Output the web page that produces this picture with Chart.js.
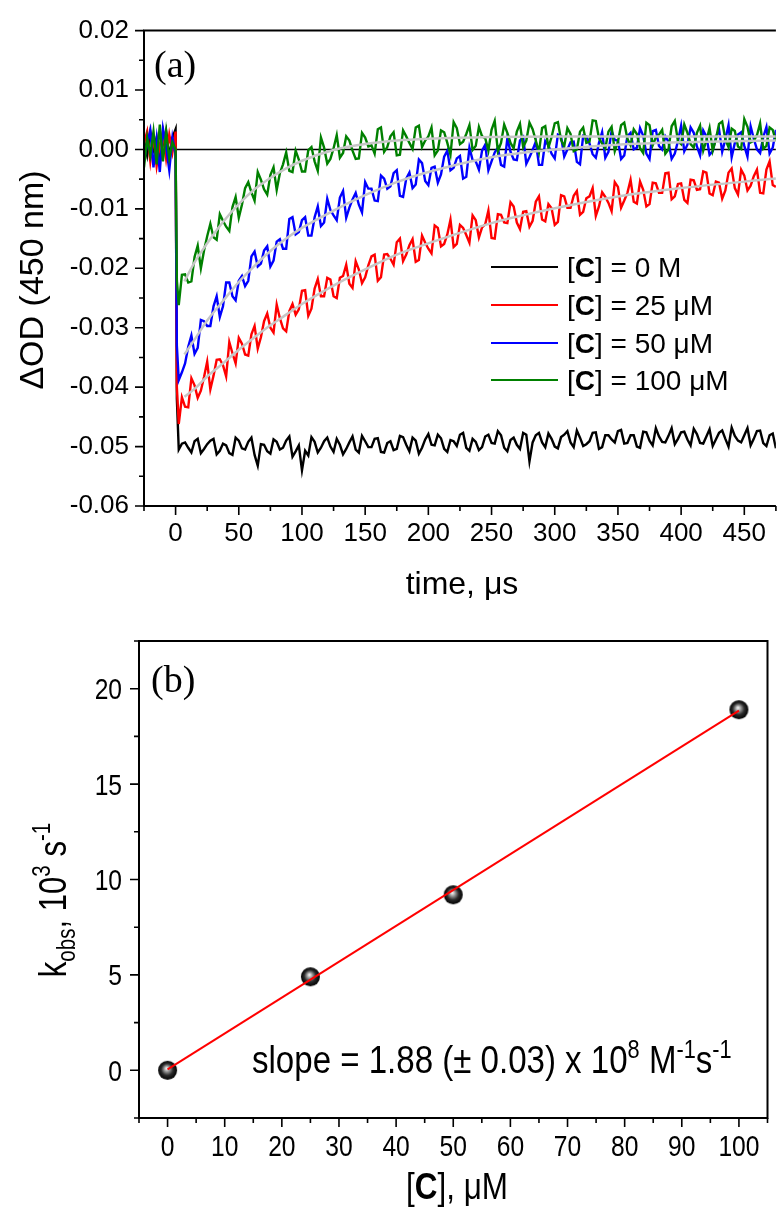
<!DOCTYPE html>
<html>
<head>
<meta charset="utf-8">
<script src="https://cdn.jsdelivr.net/npm/chart.js@4.4.1/dist/chart.umd.min.js"></script>
<style>
html,body{margin:0;padding:0;background:#fff;}
#wrap{position:relative;width:778px;height:1210px;overflow:hidden;}
#ca{position:absolute;left:0;top:0;}
#cb{position:absolute;left:0;top:600px;}
</style>
</head>
<body>
<div id="wrap">
<canvas id="ca" width="778" height="600"></canvas>
<canvas id="cb" width="778" height="610"></canvas>
</div>
<script>
// ---------------- Panel (a) data ----------------
const timeUs = [-25,-22.5,-20,-17.5,-15,-12.5,-10,-7.5,-5,-2.5,0,1,2.5,
5,7.5,10,12.5,15,17.5,20,22.5,25,27.5,30,32.5,35,37.5,40,42.5,45,47.5,50,52.5,
55,57.5,60,62.5,65,67.5,70,72.5,75,77.5,80,82.5,85,87.5,90,92.5,95,97.5,100,102.5,
105,107.5,110,112.5,115,117.5,120,122.5,125,127.5,130,132.5,135,137.5,140,142.5,145,147.5,150,152.5,
155,157.5,160,162.5,165,167.5,170,172.5,175,177.5,180,182.5,185,187.5,190,192.5,195,197.5,200,202.5,
205,207.5,210,212.5,215,217.5,220,222.5,225,227.5,230,232.5,235,237.5,240,242.5,245,247.5,250,252.5,
255,257.5,260,262.5,265,267.5,270,272.5,275,277.5,280,282.5,285,287.5,290,292.5,295,297.5,300,302.5,
305,307.5,310,312.5,315,317.5,320,322.5,325,327.5,330,332.5,335,337.5,340,342.5,345,347.5,350,352.5,
355,357.5,360,362.5,365,367.5,370,372.5,375,377.5,380,382.5,385,387.5,390,392.5,395,397.5,400,402.5,
405,407.5,410,412.5,415,417.5,420,422.5,425,427.5,430,432.5,435,437.5,440,442.5,445,447.5,450,452.5,
455,457.5,460,462.5,465,467.5,470,472.5,475];

const od0M = [0.0015,-0.0010,0.0030,0.0000,0.0020,-0.0020,0.0010,0.0032,-0.0012,0.0020,0.0034,
-0.0420,-0.0505,
-0.0495,-0.0493,-0.0502,-0.0510,-0.0491,-0.0487,-0.0511,-0.0504,-0.0496,-0.0490,
-0.0487,-0.0513,-0.0507,-0.0495,-0.0498,-0.0511,-0.0514,-0.0485,-0.0490,-0.0503,
-0.0505,-0.0492,-0.0485,-0.0514,-0.0532,-0.0496,-0.0497,-0.0508,-0.0512,-0.0488,
-0.0492,-0.0505,-0.0502,-0.0490,-0.0483,-0.0517,-0.0508,-0.0498,-0.0540,-0.0507,
-0.0515,-0.0484,-0.0492,-0.0510,-0.0502,-0.0491,-0.0485,-0.0500,-0.0509,-0.0487,
-0.0497,-0.0513,-0.0504,-0.0493,-0.0483,-0.0505,-0.0510,-0.0482,-0.0491,-0.0501,
-0.0501,-0.0487,-0.0486,-0.0509,-0.0510,-0.0494,-0.0491,-0.0506,-0.0504,-0.0482,
-0.0484,-0.0497,-0.0508,-0.0485,-0.0490,-0.0512,-0.0502,-0.0488,-0.0479,-0.0497,
-0.0498,-0.0480,-0.0486,-0.0504,-0.0509,-0.0489,-0.0491,-0.0499,-0.0480,-0.0477,
-0.0502,-0.0507,-0.0487,-0.0492,-0.0506,-0.0501,-0.0483,-0.0480,-0.0494,-0.0495,
-0.0474,-0.0481,-0.0502,-0.0508,-0.0489,-0.0485,-0.0497,-0.0504,-0.0477,-0.0480,
-0.0525,-0.0493,-0.0481,-0.0477,-0.0493,-0.0501,-0.0478,-0.0487,-0.0500,-0.0503,
-0.0484,-0.0480,-0.0474,-0.0493,-0.0501,-0.0473,-0.0485,-0.0499,-0.0496,-0.0491,
-0.0477,-0.0476,-0.0504,-0.0501,-0.0481,-0.0481,-0.0488,-0.0493,-0.0474,-0.0472,
-0.0495,-0.0494,-0.0481,-0.0481,-0.0500,-0.0502,-0.0475,-0.0476,-0.0490,-0.0498,
-0.0469,-0.0483,-0.0492,-0.0493,-0.0482,-0.0469,-0.0496,-0.0487,-0.0476,-0.0475,
-0.0488,-0.0498,-0.0470,-0.0479,-0.0494,-0.0495,-0.0483,-0.0471,-0.0499,-0.0488,
-0.0477,-0.0473,-0.0487,-0.0500,-0.0468,-0.0482,-0.0490,-0.0493,-0.0481,-0.0469,
-0.0498,-0.0487,-0.0474,-0.0473,-0.0494,-0.0499,-0.0481,-0.0478,-0.0503];

const od25uM = [0.0010,0.0030,-0.0020,0.0022,-0.0028,0.0008,0.0030,-0.0015,0.0025,-0.0005,0.0030,
-0.0400,-0.0462,
-0.0417,-0.0433,-0.0434,-0.0385,-0.0397,-0.0418,-0.0406,-0.0383,-0.0357,-0.0404,
-0.0381,-0.0354,-0.0353,-0.0363,-0.0382,-0.0324,-0.0343,-0.0360,-0.0317,-0.0327,
-0.0345,-0.0347,-0.0311,-0.0297,-0.0335,-0.0316,-0.0289,-0.0276,-0.0300,-0.0308,
-0.0261,-0.0284,-0.0301,-0.0306,-0.0272,-0.0260,-0.0278,-0.0269,-0.0238,-0.0237,
-0.0280,-0.0268,-0.0234,-0.0218,-0.0247,-0.0247,-0.0216,-0.0219,-0.0247,-0.0250,
-0.0216,-0.0213,-0.0194,-0.0226,-0.0233,-0.0188,-0.0202,-0.0225,-0.0215,-0.0195,
-0.0180,-0.0177,-0.0221,-0.0215,-0.0177,-0.0176,-0.0184,-0.0194,-0.0156,-0.0150,
-0.0188,-0.0177,-0.0161,-0.0151,-0.0189,-0.0186,-0.0145,-0.0157,-0.0167,-0.0175,
-0.0128,-0.0132,-0.0163,-0.0159,-0.0143,-0.0118,-0.0164,-0.0159,-0.0127,-0.0132,
-0.0144,-0.0157,-0.0111,-0.0119,-0.0148,-0.0131,-0.0126,-0.0103,-0.0149,-0.0150,
-0.0109,-0.0110,-0.0123,-0.0124,-0.0089,-0.0096,-0.0123,-0.0134,-0.0105,-0.0104,
-0.0130,-0.0120,-0.0088,-0.0079,-0.0118,-0.0121,-0.0092,-0.0099,-0.0127,-0.0122,
-0.0077,-0.0079,-0.0098,-0.0098,-0.0078,-0.0070,-0.0110,-0.0105,-0.0082,-0.0079,
-0.0065,-0.0112,-0.0096,-0.0072,-0.0080,-0.0090,-0.0104,-0.0055,-0.0063,-0.0098,
-0.0086,-0.0073,-0.0051,-0.0088,-0.0091,-0.0054,-0.0068,-0.0096,-0.0092,-0.0056,
-0.0057,-0.0073,-0.0073,-0.0040,-0.0039,-0.0084,-0.0079,-0.0058,-0.0057,-0.0085,
-0.0090,-0.0051,-0.0052,-0.0068,-0.0067,-0.0037,-0.0039,-0.0074,-0.0077,-0.0054,
-0.0056,-0.0083,-0.0069,-0.0039,-0.0032,-0.0065,-0.0076,-0.0034,-0.0044,-0.0069,
-0.0061,-0.0045,-0.0034,-0.0073,-0.0074,-0.0034,-0.0020,-0.0060,-0.0063];

const od50uM = [-0.0020,0.0010,0.0032,-0.0030,0.0018,-0.0038,0.0035,0.0005,-0.0035,0.0020,-0.0010,
-0.0330,-0.0388,
-0.0375,-0.0360,-0.0332,-0.0313,-0.0344,-0.0334,-0.0287,-0.0289,-0.0297,-0.0297,
-0.0264,-0.0247,-0.0282,-0.0264,-0.0224,-0.0224,-0.0247,-0.0254,-0.0221,-0.0213,
-0.0230,-0.0221,-0.0180,-0.0172,-0.0197,-0.0192,-0.0170,-0.0163,-0.0197,-0.0187,
-0.0155,-0.0151,-0.0167,-0.0167,-0.0117,-0.0114,-0.0143,-0.0139,-0.0119,-0.0114,
-0.0145,-0.0145,-0.0114,-0.0096,-0.0129,-0.0123,-0.0083,-0.0102,-0.0111,-0.0119,
-0.0081,-0.0070,-0.0115,-0.0098,-0.0084,-0.0073,-0.0093,-0.0106,-0.0055,-0.0066,
-0.0066,-0.0086,-0.0087,-0.0044,-0.0049,-0.0066,-0.0062,-0.0040,-0.0035,-0.0078,
-0.0080,-0.0049,-0.0039,-0.0065,-0.0059,-0.0017,-0.0023,-0.0053,-0.0060,-0.0031,
-0.0029,-0.0056,-0.0042,-0.0012,-0.0002,-0.0035,-0.0031,-0.0015,-0.0011,-0.0049,
-0.0046,0.0003,-0.0018,-0.0020,-0.0034,-0.0002,0.0008,-0.0035,-0.0020,-0.0005,
0.0003,-0.0026,-0.0029,0.0019,-0.0004,-0.0017,-0.0018,0.0015,0.0021,-0.0024,
-0.0013,-0.0001,0.0013,-0.0026,-0.0026,0.0014,0.0007,-0.0007,-0.0015,0.0025,
0.0022,-0.0012,0.0000,0.0012,0.0013,-0.0021,-0.0025,0.0023,0.0022,0.0010,
-0.0008,-0.0014,0.0011,0.0029,-0.0014,-0.0004,0.0031,0.0016,0.0015,-0.0016,
-0.0010,0.0022,0.0028,0.0000,0.0003,0.0036,0.0023,-0.0007,-0.0016,0.0031,
0.0033,0.0006,0.0000,0.0022,0.0013,-0.0016,-0.0007,0.0014,0.0040,-0.0003,
0.0008,0.0037,0.0028,0.0005,-0.0010,0.0032,0.0022,-0.0009,-0.0003,0.0020,
0.0034,-0.0004,0.0017,0.0041,-0.0013,0.0011,0.0025,0.0029,0.0006,-0.0012,
0.0039,0.0018,0.0000,-0.0006,0.0021,0.0038,-0.0007,0.0003,0.0033];

const od100uM = [-0.0030,0.0020,-0.0010,0.0030,-0.0025,0.0042,-0.0020,0.0030,-0.0015,0.0012,0.0000,
-0.0220,-0.0262,
-0.0211,-0.0210,-0.0224,-0.0222,-0.0181,-0.0162,-0.0200,-0.0170,-0.0146,-0.0125,
-0.0148,-0.0152,-0.0109,-0.0120,-0.0130,-0.0137,-0.0097,-0.0080,-0.0115,-0.0093,
-0.0065,-0.0055,-0.0072,-0.0086,-0.0038,-0.0051,-0.0067,-0.0076,-0.0043,-0.0030,
-0.0068,-0.0040,-0.0025,-0.0005,-0.0036,-0.0038,-0.0002,-0.0017,-0.0037,-0.0037,
-0.0001,0.0004,-0.0020,-0.0036,0.0020,0.0003,-0.0024,-0.0016,0.0002,0.0024,
-0.0014,-0.0006,0.0022,0.0015,-0.0002,-0.0016,-0.0015,0.0028,0.0020,0.0005,
0.0007,-0.0007,0.0034,0.0037,-0.0004,0.0004,0.0022,0.0029,-0.0010,-0.0009,
0.0032,0.0022,0.0011,0.0001,0.0037,0.0040,0.0004,0.0015,0.0022,0.0037,
-0.0010,-0.0002,0.0032,0.0029,0.0011,-0.0009,0.0046,0.0036,0.0009,0.0013,
0.0026,0.0041,-0.0001,0.0006,0.0038,0.0022,0.0019,-0.0002,0.0033,0.0048,
-0.0003,0.0011,0.0042,0.0028,0.0011,0.0002,0.0030,0.0043,0.0004,0.0015,
0.0045,0.0034,0.0015,-0.0005,0.0036,0.0039,0.0003,0.0021,0.0044,0.0046,
0.0016,0.0005,0.0036,0.0026,-0.0003,0.0000,0.0030,0.0037,0.0011,0.0013,
0.0049,0.0048,0.0019,0.0010,0.0002,0.0030,0.0038,-0.0003,0.0013,0.0041,
0.0045,0.0018,0.0007,0.0034,0.0026,0.0002,-0.0006,0.0045,0.0041,0.0007,
0.0020,0.0025,0.0033,-0.0007,0.0000,0.0039,0.0048,0.0014,0.0009,0.0042,
0.0028,0.0009,0.0003,0.0028,0.0040,-0.0002,0.0015,0.0036,-0.0002,0.0017,
0.0043,0.0047,0.0017,0.0004,0.0035,0.0031,0.0005,0.0001,0.0051,0.0038,
0.0012,0.0015,0.0024,0.0044,0.0001,0.0006,0.0037,0.0033,0.0014];

// exponential fits (grey curves)
const fitTimeUs = [7,15,25,37.5,50,62.5,75,87.5,100,125,150,175,200,250,300,350,400,475];
const fit25uM  = [-0.0416,-0.0403,-0.0382,-0.0360,-0.0337,-0.0316,-0.0296,-0.0278,-0.0260,-0.0229,-0.0202,-0.0177,-0.0158,-0.0124,-0.0099,-0.0079,-0.0065,-0.0049];
const fit50uM  = [-0.0345,-0.0320,-0.0288,-0.0255,-0.0223,-0.0196,-0.0171,-0.0150,-0.0132,-0.0103,-0.0077,-0.0055,-0.0038,-0.0013,0.0000,0.0008,0.0012,0.0015];
const fit100uM = [-0.0222,-0.0190,-0.0158,-0.0122,-0.0092,-0.0067,-0.0048,-0.0032,-0.0019,-0.0001,0.0009,0.0015,0.0018,0.0021,0.0022,0.0022,0.0022,0.0022];

const zeroLineT = [0,475];
const zeroLineOD = [0,0];

const seriesLabels = ['0 M','25 μM','50 μM','100 μM'];
const seriesColors = ['#000000','#ff0000','#0000ff','#008000'];

const xTicksA = [0,50,100,150,200,250,300,350,400,450];
const xMinorA = [-25,25,75,125,175,225,275,325,375,425,475];
const yTicksA = [-0.06,-0.05,-0.04,-0.03,-0.02,-0.01,0.00,0.01,0.02];
const yMinorA = [-0.055,-0.045,-0.035,-0.025,-0.015,-0.005,0.005,0.015];

// ---------------- Panel (b) data ----------------
const concUM = [0,25,50,100];
const kobs = [0.0,4.9,9.2,18.9];
const fitConc = [0,100];
const fitKobs = [0.05,18.85];

const xTicksB = [0,10,20,30,40,50,60,70,80,90,100];
const xMinorB = [-5,5,15,25,35,45,55,65,75,85,95,105];
const yTicksB = [0,5,10,15,20];
const yMinorB = [-2.5,2.5,7.5,12.5,17.5,22.5];

// ---------------- helpers ----------------
const SANS = "'Liberation Sans', Arial, Helvetica, sans-serif";
const SERIF = "'Liberation Serif', 'Times New Roman', serif";
const NARROW_X = 0.82;   // panel (b) text is set in a condensed face
const pts = (xs, ys) => xs.map((v, i) => ({x: v, y: ys[i]}));

function drawRuns(ctx, runs, cx, cy, rot, align, sx) {
  ctx.save();
  ctx.translate(cx, cy);
  ctx.rotate(rot);
  ctx.scale(sx || 1, 1);
  let total = 0;
  runs.forEach(r => { ctx.font = r.font; r.w = ctx.measureText(r.text).width; total += r.w; });
  let x = align === 'left' ? 0 : (align === 'right' ? -total : -total / 2);
  ctx.textBaseline = 'alphabetic';
  ctx.textAlign = 'left';
  ctx.fillStyle = '#000';
  runs.forEach(r => { ctx.font = r.font; ctx.fillText(r.text, x, r.dy || 0); x += r.w; });
  ctx.restore();
}

function drawTicks(ctx, a, xs, ys, xMaj, xMin, yMaj, yMin) {
  ctx.save();
  ctx.strokeStyle = '#000';
  ctx.lineWidth = 1.6;
  ctx.beginPath();
  xMaj.forEach(v => { const p = xs.getPixelForValue(v); ctx.moveTo(p, a.bottom); ctx.lineTo(p, a.bottom + 9); });
  xMin.forEach(v => { const p = xs.getPixelForValue(v); ctx.moveTo(p, a.bottom); ctx.lineTo(p, a.bottom + 5); });
  yMaj.forEach(v => { const p = ys.getPixelForValue(v); ctx.moveTo(a.left, p); ctx.lineTo(a.left - 9, p); });
  yMin.forEach(v => { const p = ys.getPixelForValue(v); ctx.moveTo(a.left, p); ctx.lineTo(a.left - 5, p); });
  ctx.stroke();
  ctx.restore();
}

// ---------------- Chart (a) ----------------
const decorA = {
  id: 'decorA',
  afterDraw(chart) {
    const {ctx, chartArea: a, scales: {x, y}} = chart;
    ctx.save();
    ctx.strokeStyle = '#000';
    ctx.lineWidth = 2;
    ctx.beginPath();
    ctx.moveTo(a.right, a.top); ctx.lineTo(a.left, a.top);
    ctx.lineTo(a.left, a.bottom); ctx.lineTo(a.right, a.bottom);
    ctx.stroke();
    ctx.restore();
    drawTicks(ctx, a, x, y, xTicksA, xMinorA, yTicksA, yMinorA);

    ctx.save();
    ctx.font = '38px ' + SERIF;
    ctx.fillStyle = '#000';
    ctx.textBaseline = 'alphabetic';
    ctx.fillText('(a)', 154, 77);
    ctx.restore();

    const rowY = [267, 305, 343, 380];
    seriesLabels.forEach((lab, i) => {
      ctx.save();
      ctx.strokeStyle = seriesColors[i];
      ctx.lineWidth = 2;
      ctx.beginPath(); ctx.moveTo(491, rowY[i]); ctx.lineTo(558, rowY[i]); ctx.stroke();
      ctx.restore();
      drawRuns(ctx, [
        {text: '[', font: '28px ' + SANS},
        {text: 'C', font: 'bold 28px ' + SANS},
        {text: '] = ' + lab, font: '28px ' + SANS}
      ], 567, rowY[i] + 10, 0, 'left');
    });

    drawRuns(ctx, [{text: 'ΔOD (450 nm)', font: '34px ' + SANS}], 43, 280, -Math.PI / 2, 'center');
    drawRuns(ctx, [{text: 'time, μs', font: '32px ' + SANS}], 462, 594, 0, 'center');
  }
};

new Chart(document.getElementById('ca'), {
  type: 'line',
  data: {
    datasets: [
      {data: pts(fitTimeUs, fit25uM), borderColor: '#c6c6c6', borderWidth: 2.5, cubicInterpolationMode: 'monotone', order: 0},
      {data: pts(fitTimeUs, fit50uM), borderColor: '#c6c6c6', borderWidth: 2.5, cubicInterpolationMode: 'monotone', order: 0},
      {data: pts(fitTimeUs, fit100uM), borderColor: '#c6c6c6', borderWidth: 2.5, cubicInterpolationMode: 'monotone', order: 0},
      {label: seriesLabels[3], data: pts(timeUs, od100uM), borderColor: seriesColors[3], borderWidth: 2.4, order: 1},
      {label: seriesLabels[2], data: pts(timeUs, od50uM), borderColor: seriesColors[2], borderWidth: 2.4, order: 2},
      {label: seriesLabels[1], data: pts(timeUs, od25uM), borderColor: seriesColors[1], borderWidth: 2.4, order: 3},
      {label: seriesLabels[0], data: pts(timeUs, od0M), borderColor: seriesColors[0], borderWidth: 2.4, order: 4},
      {data: pts(zeroLineT, zeroLineOD), borderColor: '#000', borderWidth: 1.6, order: 5}
    ]
  },
  options: {
    responsive: false,
    animation: false,
    events: [],
    layout: {padding: {top: 29, left: 0, right: 0, bottom: 0}},
    plugins: {legend: {display: false}, tooltip: {enabled: false}},
    elements: {point: {radius: 0}, line: {tension: 0, fill: false, borderJoinStyle: 'miter'}},
    scales: {
      x: {
        type: 'linear', min: -25, max: 475,
        afterFit(s) { s.height = 94; },
        afterBuildTicks(s) { s.ticks = xTicksA.map(v => ({value: v})); },
        grid: {display: false, drawTicks: false},
        border: {display: false},
        ticks: {autoSkip: false, maxRotation: 0, padding: 12, color: '#000', font: {family: SANS, size: 26}, callback: v => String(v)}
      },
      y: {
        type: 'linear', min: -0.06, max: 0.02,
        afterFit(s) { s.width = 144; },
        afterBuildTicks(s) { s.ticks = yTicksA.map(v => ({value: v})); },
        grid: {display: false, drawTicks: false},
        border: {display: false},
        ticks: {autoSkip: false, padding: 15, color: '#000', font: {family: SANS, size: 26}, callback: v => Number(v).toFixed(2)}
      }
    }
  },
  plugins: [decorA]
});

// ---------------- Chart (b) ----------------
function sphereImage(r) {
  const c = document.createElement('canvas');
  c.width = c.height = 2 * r + 2;
  const g = c.getContext('2d');
  const cx = r + 1, cy = r + 1;
  const grad = g.createRadialGradient(cx - 1, cy - 2, 0.5, cx, cy, r);
  grad.addColorStop(0, '#f2f2f2');
  grad.addColorStop(0.25, '#9a9a9a');
  grad.addColorStop(0.6, '#2a2a2a');
  grad.addColorStop(1, '#000000');
  g.fillStyle = grad;
  g.beginPath(); g.arc(cx, cy, r, 0, Math.PI * 2); g.fill();
  return c;
}
const sphere = sphereImage(9.5);

const decorB = {
  id: 'decorB',
  afterDraw(chart) {
    const {ctx, chartArea: a, scales: {x, y}} = chart;
    ctx.save();
    ctx.strokeStyle = '#000';
    ctx.lineWidth = 2;
    ctx.strokeRect(a.left, a.top, a.right - a.left, a.bottom - a.top);
    ctx.restore();
    drawTicks(ctx, a, x, y, xTicksB, xMinorB, yTicksB, yMinorB);

    // tick labels (condensed face), placed through the chart's scales
    const tf = '30px ' + SANS;
    xTicksB.forEach(v => drawRuns(ctx, [{text: String(v), font: tf}], x.getPixelForValue(v), 556, 0, 'center', NARROW_X));
    yTicksB.forEach(v => drawRuns(ctx, [{text: String(v), font: tf}], 122, y.getPixelForValue(v) + 10.5, 0, 'right', NARROW_X));

    ctx.save();
    ctx.font = '38px ' + SERIF;
    ctx.fillStyle = '#000';
    ctx.fillText('(b)', 151, 92);
    ctx.restore();

    const f = '38px ' + SANS, fs = '25px ' + SANS;
    drawRuns(ctx, [
      {text: 'slope = 1.88 (± 0.03) x 10', font: f},
      {text: '8', font: fs, dy: -15},
      {text: ' M', font: f},
      {text: '-1', font: fs, dy: -15},
      {text: 's', font: f},
      {text: '-1', font: fs, dy: -15}
    ], 252, 473, 0, 'left', 0.87);

    drawRuns(ctx, [
      {text: 'k', font: '38px ' + SANS},
      {text: 'obs', font: '25px ' + SANS, dy: 9},
      {text: ', 10', font: '38px ' + SANS},
      {text: '3', font: '25px ' + SANS, dy: -16},
      {text: ' s', font: '38px ' + SANS},
      {text: '-1', font: '25px ' + SANS, dy: -16}
    ], 66, 300, -Math.PI / 2, 'center', NARROW_X);

    drawRuns(ctx, [
      {text: '[', font: '37px ' + SANS},
      {text: 'C', font: 'bold 37px ' + SANS},
      {text: '], μM', font: '37px ' + SANS}
    ], 457, 599, 0, 'center', 0.85);
  }
};

new Chart(document.getElementById('cb'), {
  type: 'line',
  data: {
    datasets: [
      {data: pts(fitConc, fitKobs), borderColor: '#ff0000', borderWidth: 2, pointRadius: 0, order: 0},
      {data: pts(concUM, kobs), showLine: false, pointStyle: sphere, pointRadius: 9.5, order: 1}
    ]
  },
  options: {
    responsive: false,
    animation: false,
    events: [],
    layout: {padding: {top: 41, left: 0, right: 4, bottom: 0}},
    plugins: {legend: {display: false}, tooltip: {enabled: false}},
    scales: {
      x: {
        type: 'linear', min: -5, max: 105,
        afterFit(s) { s.height = 92; },
        afterBuildTicks(s) { s.ticks = xTicksB.map(v => ({value: v})); },
        grid: {display: false, drawTicks: false},
        border: {display: false},
        ticks: {display: false}
      },
      y: {
        type: 'linear', min: -2.5, max: 22.5,
        afterFit(s) { s.width = 139; },
        afterBuildTicks(s) { s.ticks = yTicksB.map(v => ({value: v})); },
        grid: {display: false, drawTicks: false},
        border: {display: false},
        ticks: {display: false}
      }
    }
  },
  plugins: [decorB]
});
</script>
</body>
</html>
